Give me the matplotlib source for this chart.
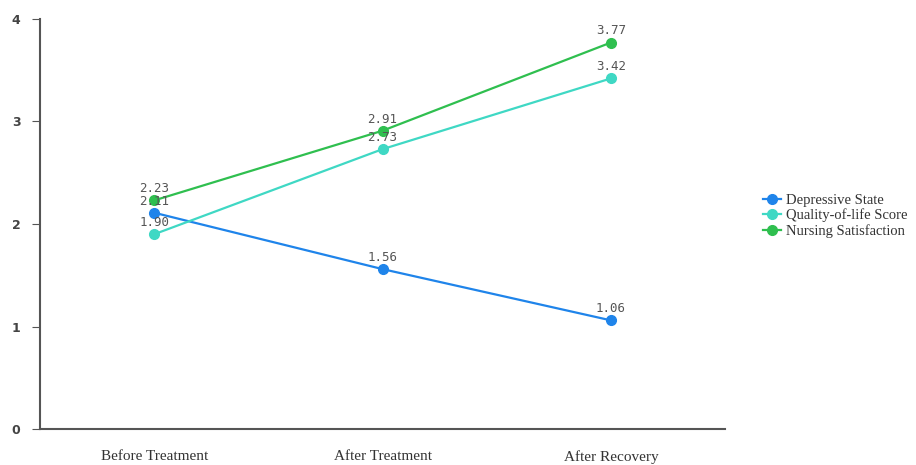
import matplotlib
matplotlib.use('Agg')
from matplotlib import pyplot as plt

categories = ['Before Treatment', 'After Treatment', 'After Recovery']
depressive = [2.11, 1.56, 1.06]
quality = [1.90, 2.73, 3.42]
nursing = [2.23, 2.91, 3.77]

series = [('Depressive State', depressive, '#1f84ea'),
          ('Quality-of-life Score', quality, '#3fd8c4'),
          ('Nursing Satisfaction', nursing, '#2fbf4f')]

fig = plt.figure(figsize=(9.16, 4.65), dpi=100)
ax = fig.add_axes([40/916, 36/465, 685/916, 410/465])

x = list(range(len(categories)))
for name, vals, col in series:
    ax.plot(x, vals, color=col, lw=1.6, marker='o', ms=7, label=name)
    for xi, v in zip(x, vals):
        ax.text(xi, v + 0.05, '%.2f' % v, ha='center', va='bottom',
                fontsize=9, color='#555555', family='DejaVu Sans Mono')

ax.set_xlim(-0.5, 2.5)
ax.set_ylim(0, 4)
ax.set_yticks([0, 1, 2, 3, 4])
ax.set_xticks(x)
ax.set_xticklabels(categories, family='Liberation Serif', fontsize=11, color='#333333')
ax.tick_params(axis='x', length=0, pad=15)
ax.tick_params(axis='y', length=6, color='#555555', labelsize=9, labelcolor='#444444', pad=8)
for lab in ax.get_yticklabels():
    lab.set_fontweight('bold')
for s in ['top', 'right']:
    ax.spines[s].set_visible(False)
for s in ['left', 'bottom']:
    ax.spines[s].set_color('#555555')
    ax.spines[s].set_linewidth(1.5)

leg = ax.legend(loc='center left', bbox_to_anchor=(1.047, 0.52), frameon=False,
                prop={'family': 'Liberation Serif', 'size': 10.5},
                handlelength=1.2, handletextpad=0.4, labelspacing=0.1,
                borderaxespad=0.0)
for t in leg.get_texts():
    t.set_color('#333333')

fig.savefig('out.png', dpi=100)
